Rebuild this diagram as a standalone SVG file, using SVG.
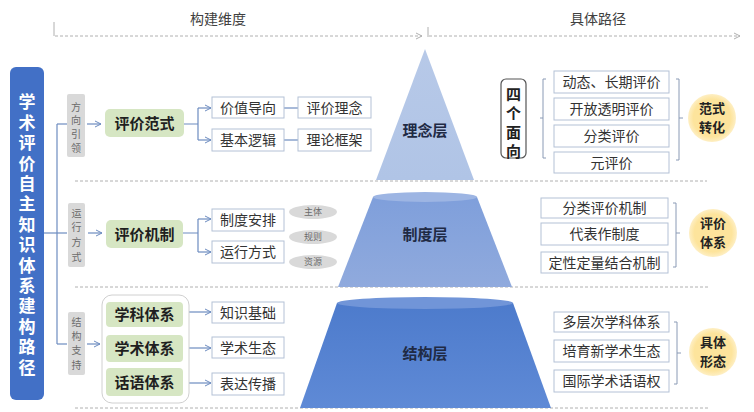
<svg xmlns="http://www.w3.org/2000/svg" width="754" height="412" viewBox="0 0 754 412">
<defs>
<style>
text{font-family:"Noto Sans CJK SC","Liberation Sans",sans-serif;}
.hdr{font-size:14px;fill:#404040;text-anchor:middle;}
.dash{stroke:#b0b0b0;stroke-width:1;stroke-dasharray:3,2;fill:none;}
.tick{stroke:#b0b0b0;stroke-width:1;fill:none;}
.conn{stroke:#6d8cc0;stroke-width:1.2;fill:none;}
.wbox{fill:#fff;stroke:#b4c1d6;stroke-width:1;}
.wt{font-size:14px;fill:#333;text-anchor:middle;}
.gbox{fill:#d6e6c3;}
.gt{font-size:15px;font-weight:bold;fill:#1f1f1f;text-anchor:middle;}
.lab{fill:#d9d9d9;}
.lt{font-size:10px;fill:#6b6b6b;writing-mode:tb;}
.ell{fill:#d9d9d9;}
.et{font-size:9px;fill:#6b6b6b;text-anchor:middle;}
.brk{stroke:#8a9ab5;stroke-width:1;fill:none;}
.ct{font-size:13px;font-weight:bold;fill:#222;text-anchor:middle;}
.layer{font-size:15px;font-weight:bold;fill:#1f2a44;text-anchor:middle;}
.rt{font-size:17px;font-weight:bold;fill:#fff;writing-mode:tb;letter-spacing:3.4px;}
.st{font-size:15px;font-weight:bold;fill:#222;writing-mode:tb;letter-spacing:4px;}
</style>
<marker id="arr" markerWidth="8" markerHeight="8" refX="7" refY="4" orient="auto" markerUnits="userSpaceOnUse">
<path d="M1,1 L7,4 L1,7" fill="none" stroke="#6d8cc0" stroke-width="1"/>
</marker>
<marker id="garr" markerWidth="8" markerHeight="8" refX="7" refY="4" orient="auto" markerUnits="userSpaceOnUse">
<path d="M1,1 L7,4 L1,7" fill="none" stroke="#b0b0b0" stroke-width="1"/>
</marker>
<linearGradient id="g1" x1="0" y1="0" x2="0" y2="1"><stop offset="0" stop-color="#b7c9e8"/><stop offset="1" stop-color="#b0c4e6"/></linearGradient>
<linearGradient id="g2" x1="0" y1="0" x2="0" y2="1"><stop offset="0" stop-color="#7f9fdb"/><stop offset="1" stop-color="#90aadd"/></linearGradient>
<linearGradient id="g3" x1="0" y1="0" x2="0" y2="1"><stop offset="0" stop-color="#4d7bcc"/><stop offset="1" stop-color="#5f8ad6"/></linearGradient>
<radialGradient id="cg"><stop offset="0.78" stop-color="#fde49c"/><stop offset="1" stop-color="#fde49c" stop-opacity="0.6"/></radialGradient>
</defs>
<rect width="754" height="412" fill="#ffffff"/>

<g id="header">
<text class="hdr" x="218" y="24">构建维度</text>
<text class="hdr" x="598" y="24">具体路径</text>
<line class="tick" x1="54" y1="22" x2="54" y2="36"/>
<line class="dash" x1="55" y1="36" x2="422" y2="36" marker-end="url(#garr)"/>
<line class="tick" x1="428" y1="27" x2="428" y2="37"/>
<line class="dash" x1="429" y1="36" x2="740" y2="36" marker-end="url(#garr)"/>
</g>

<g id="separators">
<line class="dash" x1="75" y1="181" x2="707" y2="181"/>
<line class="dash" x1="75" y1="287" x2="708" y2="287"/>
<line class="dash" x1="75" y1="408" x2="708" y2="408"/>
</g>

<g id="root">
<rect x="10" y="67" width="34" height="333" rx="6" fill="#4270c6"/>
<text class="rt" x="27" y="93.5">学术评价自主知识体系建构路径</text>
</g>

<g id="connectors">
<line class="conn" x1="44" y1="233" x2="67" y2="233"/>
<line class="conn" x1="57" y1="124" x2="57" y2="344"/>
<line class="conn" x1="57" y1="124" x2="67" y2="124"/>
<line class="conn" x1="57" y1="344" x2="67" y2="344"/>
<line class="conn" x1="87" y1="124" x2="101" y2="124" marker-end="url(#arr)"/>
<line class="conn" x1="88" y1="233" x2="102" y2="233" marker-end="url(#arr)"/>
<line class="conn" x1="87" y1="344" x2="100" y2="344" marker-end="url(#arr)"/>
<path class="conn" d="M184,124 H198 M198,108 V140"/>
<line class="conn" x1="198" y1="108" x2="211" y2="108" marker-end="url(#arr)"/>
<line class="conn" x1="198" y1="140" x2="211" y2="140" marker-end="url(#arr)"/>
<line class="conn" x1="284" y1="108" x2="298" y2="108"/>
<line class="conn" x1="284" y1="140" x2="298" y2="140"/>
<path class="conn" d="M183,233 H198 M198,219 V252"/>
<line class="conn" x1="198" y1="219" x2="211" y2="219" marker-end="url(#arr)"/>
<line class="conn" x1="198" y1="252" x2="211" y2="252" marker-end="url(#arr)"/>
<line class="conn" x1="189" y1="312" x2="211" y2="312" marker-end="url(#arr)"/>
<line class="conn" x1="189" y1="348" x2="211" y2="348" marker-end="url(#arr)"/>
<line class="conn" x1="189" y1="383" x2="211" y2="383" marker-end="url(#arr)"/>
</g>

<g id="label-fangxiang">
<rect class="lab" x="67" y="94" width="18" height="63" rx="2"/>
<text class="lt" x="76" y="102" style="letter-spacing:3.7px">方向引领</text>
</g>
<g id="label-yunxing">
<rect class="lab" x="68" y="203" width="17" height="64" rx="2"/>
<text class="lt" x="76.5" y="208" style="letter-spacing:4.7px">运行方式</text>
</g>
<g id="label-jiegou">
<rect class="lab" x="68" y="312" width="17" height="63" rx="2"/>
<text class="lt" x="76.5" y="317" style="letter-spacing:4.3px">结构支持</text>
</g>

<g id="pingjiafanshi">
<rect class="gbox" x="105" y="109" width="79" height="28" rx="5"/>
<text class="gt" x="144.5" y="128.5">评价范式</text>
</g>
<g id="jiazhidaoxiang"><rect class="wbox" x="212" y="97" width="72" height="21"/><text class="wt" x="248" y="112.5">价值导向</text></g>
<g id="jibenluoji"><rect class="wbox" x="212" y="129" width="72" height="22"/><text class="wt" x="248" y="145">基本逻辑</text></g>
<g id="pingjialinian"><rect class="wbox" x="298" y="97" width="73" height="21"/><text class="wt" x="334.5" y="112.5">评价理念</text></g>
<g id="lilunkuangjia"><rect class="wbox" x="298" y="129" width="73" height="22"/><text class="wt" x="334.5" y="145">理论框架</text></g>

<g id="pingjiajizhi">
<rect class="gbox" x="106" y="220" width="77" height="28" rx="5"/>
<text class="gt" x="144.5" y="239.5">评价机制</text>
</g>
<g id="zhiduanpai"><rect class="wbox" x="212" y="209" width="72" height="22"/><text class="wt" x="248" y="225">制度安排</text></g>
<g id="yunxingfangshi"><rect class="wbox" x="212" y="241" width="72" height="22"/><text class="wt" x="248" y="257">运行方式</text></g>
<g id="zhuti"><ellipse class="ell" cx="313" cy="212" rx="24" ry="7"/><text class="et" x="313" y="215">主体</text></g>
<g id="guize"><ellipse class="ell" cx="313" cy="237" rx="24" ry="7"/><text class="et" x="313" y="240">规则</text></g>
<g id="ziyuan"><ellipse class="ell" cx="313" cy="262" rx="24" ry="7"/><text class="et" x="313" y="265">资源</text></g>

<g id="tixi-group">
<rect x="102" y="295" width="87" height="108" rx="10" fill="#fff" stroke="#d0d0d0" stroke-width="1"/>
<g id="xuekitixi"><rect class="gbox" x="106" y="302" width="77" height="25" rx="4"/><text class="gt" x="144.5" y="320">学科体系</text></g>
<g id="xueshutixi"><rect class="gbox" x="106" y="335" width="77" height="27" rx="4"/><text class="gt" x="144.5" y="354">学术体系</text></g>
<g id="huayutixi"><rect class="gbox" x="106" y="368" width="77" height="28" rx="4"/><text class="gt" x="144.5" y="387.5">话语体系</text></g>
</g>
<g id="zhishijichu"><rect class="wbox" x="212" y="302" width="72" height="21"/><text class="wt" x="248" y="317.5">知识基础</text></g>
<g id="xueshushengtai"><rect class="wbox" x="212" y="337" width="72" height="21"/><text class="wt" x="248" y="352.5">学术生态</text></g>
<g id="biaodachuanbo"><rect class="wbox" x="212" y="373" width="72" height="22"/><text class="wt" x="248" y="389">表达传播</text></g>

<g id="linianceng">
<path d="M425,49 L474,180 L376,180 Z" fill="url(#g1)"/>
<text class="layer" x="425" y="136">理念层</text>
</g>
<g id="zhiduceng">
<path d="M373,197 L477,197 L512,287 L338,287 Z" fill="url(#g2)"/>
<ellipse cx="425" cy="197" rx="52" ry="5" fill="#9db5e3"/>
<text class="layer" x="425" y="240">制度层</text>
</g>
<g id="jiegouceng">
<path d="M337,303 L513,303 L551,408 L300,408 Z" fill="url(#g3)"/>
<ellipse cx="425" cy="303" rx="88" ry="6" fill="#7195d8"/>
<text class="layer" x="425" y="359">结构层</text>
</g>

<g id="simianxiang">
<rect x="501" y="79" width="25" height="79" rx="5" fill="#fff" stroke="#555" stroke-width="1.2"/>
<text class="st" x="513.5" y="86.5">四个面向</text>
</g>
<g id="brackets">
<path class="brk" d="M546,79 H543 V158 H546 M543,118 H540"/>
<path class="brk" d="M676,79 H679 V160 H676 M679,118 H683"/>
<path class="brk" d="M673,203 H676 V267 H673 M676,233 H680"/>
<path class="brk" d="M674,322 H677 V384 H674 M677,353 H681"/>
</g>
<g id="dongtai"><rect class="wbox" x="554" y="71" width="115" height="22"/><text class="wt" x="611.5" y="87">动态、长期评价</text></g>
<g id="kaifang"><rect class="wbox" x="554" y="98" width="115" height="22"/><text class="wt" x="611.5" y="114">开放透明评价</text></g>
<g id="fenlei"><rect class="wbox" x="554" y="125" width="115" height="22"/><text class="wt" x="611.5" y="141">分类评价</text></g>
<g id="yuanpingjia"><rect class="wbox" x="554" y="152" width="115" height="21"/><text class="wt" x="611.5" y="167.5">元评价</text></g>
<g id="fanshizhuanhua"><circle cx="712" cy="118" r="24" fill="url(#cg)"/><text class="ct"><tspan x="712" y="113">范式</tspan><tspan x="712" y="132">转化</tspan></text></g>

<g id="fenleijizhi"><rect class="wbox" x="541" y="198" width="127" height="20"/><text class="wt" x="604.5" y="213">分类评价机制</text></g>
<g id="daibiaozuo"><rect class="wbox" x="541" y="223" width="127" height="22"/><text class="wt" x="604.5" y="239">代表作制度</text></g>
<g id="dingxing"><rect class="wbox" x="541" y="252" width="127" height="21"/><text class="wt" x="604.5" y="267.5">定性定量结合机制</text></g>
<g id="pingjiatixi"><circle cx="713" cy="233" r="24" fill="url(#cg)"/><text class="ct"><tspan x="713" y="228">评价</tspan><tspan x="713" y="247">体系</tspan></text></g>

<g id="duocengci"><rect class="wbox" x="554" y="312" width="115" height="20"/><text class="wt" x="611.5" y="327">多层次学科体系</text></g>
<g id="peiyu"><rect class="wbox" x="554" y="340" width="115" height="22"/><text class="wt" x="611.5" y="356">培育新学术生态</text></g>
<g id="guoji"><rect class="wbox" x="554" y="370" width="115" height="22"/><text class="wt" x="611.5" y="386">国际学术话语权</text></g>
<g id="jutixingtai"><circle cx="713" cy="352" r="24" fill="url(#cg)"/><text class="ct"><tspan x="713" y="347">具体</tspan><tspan x="713" y="366">形态</tspan></text></g>
</svg>
